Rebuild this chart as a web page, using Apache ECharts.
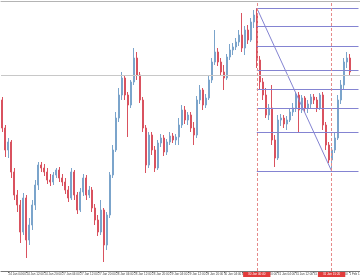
<!DOCTYPE html>
<html><head><meta charset="utf-8">
<script src="https://cdn.jsdelivr.net/npm/echarts@6/dist/echarts.min.js"></script>
<style>html,body{margin:0;padding:0;background:#fff}#c{width:360px;height:280px}</style>
</head><body><div id="c"></div>
<script>
// candle prices (open, close, low, high)
const opens  = [171,143,121,129,99,76,66,39,73,31,46,66,86,106,103,99,91,89,96,101,93,89,81,73,99,76,61,79,93,76,81,63,51,39,61,26,56,96,121,153,176,193,176,166,189,213,196,171,143,106,136,121,103,128,133,119,129,135,131,134,146,161,151,156,143,136,171,181,166,173,191,209,219,209,199,193,214,221,224,229,236,223,241,231,249,256,211,189,176,156,163,131,113,151,153,147,151,159,163,176,161,173,163,167,174,171,163,176,146,126,111,121,133,171,186,209,213];
const closes = [143,121,129,99,76,66,39,73,31,46,66,86,106,103,99,91,89,96,101,93,89,81,73,99,76,61,79,93,76,81,63,51,39,61,26,56,96,121,153,176,193,176,166,189,213,196,171,143,106,136,121,103,128,133,119,129,135,131,134,146,161,151,156,143,136,171,181,166,173,191,209,219,209,199,193,214,221,224,229,236,223,241,231,249,256,211,189,176,156,163,131,113,151,153,147,151,159,163,176,161,173,163,167,174,171,163,176,146,126,111,121,133,171,186,209,213,199];
const lows   = [139,114,113,93,71,59,28,36,13,26,41,61,81,99,95,87,85,86,93,89,85,77,69,71,71,57,59,75,71,73,59,46,35,36,9,21,53,93,119,149,171,171,134,163,186,191,168,139,98,103,116,99,101,124,115,116,126,128,126,126,143,147,146,139,126,133,167,161,163,171,188,206,205,195,181,191,211,216,221,225,219,216,227,229,243,203,181,171,153,151,126,104,111,145,143,141,149,155,159,138,158,159,158,163,167,159,161,141,121,108,100,118,131,167,181,203,195];
const highs  = [174,146,133,131,103,81,71,78,76,53,71,91,109,109,107,103,97,99,103,104,97,93,85,103,101,79,83,97,96,85,84,67,56,71,63,59,99,126,159,183,199,196,179,191,223,219,199,174,146,139,139,125,131,137,136,132,139,138,137,153,166,165,159,159,149,175,186,183,177,196,213,241,223,213,206,217,227,228,233,241,258,245,246,253,261,263,215,193,183,167,186,136,156,157,156,155,163,168,179,179,176,175,171,177,177,174,178,179,149,129,124,139,176,191,213,219,217];
const tickLabels = ['24 Jan 04:00','24 Jan 12:00','24 Jan 20:00','27 Jan 04:00','27 Jan 12:00','27 Jan 20:00','28 Jan 04:00','28 Jan 12:00','28 Jan 20:00','29 Jan 04:00','29 Jan 12:00','29 Jan 20:00','30 Jan 04:00','30 Jan 12:00','30 Jan 20:00','31 Jan 04:00','31 Jan 12:00','31 Jan 20:00','1 Feb 04:00','1 Feb 12:00'];
const fibRatios = [0, 0.236, 0.382, 0.5, 0.618, 0.764, 0.886, 1];
const fibHighIndex = 85, fibLowIndex = 110;
const fibHigh = 263, fibLow = 100;
const horizontalLevel = 195.7;
const vlineLabels = ['30 Jan 00:40', '31 Jan 15:20'];
const totalSlots = 120;

const categories = Array.from({length: totalSlots}, (_, i) => String(i));
const candleData = opens.map((o, i) => [o, closes[i], lows[i], highs[i]]);
const lastIdx = totalSlots - 1;

const fibColor = '#8484d2';
const markData = [];
fibRatios.forEach(r => {
  const v = fibLow + r * (fibHigh - fibLow);
  markData.push([{coord: [String(fibHighIndex), v], lineStyle: {color: fibColor, width: 1, type: 'solid'}}, {coord: [String(lastIdx), v]}]);
});
markData.push([{coord: [String(fibHighIndex), fibHigh], lineStyle: {color: fibColor, width: 1, type: 'solid'}}, {coord: [String(fibLowIndex), fibLow]}]);
markData.push({yAxis: horizontalLevel, lineStyle: {color: '#c8c8c8', width: 1, type: 'solid'}, label: {show: false}});
[fibHighIndex, fibLowIndex].forEach((xi, k) => {
  markData.push({xAxis: String(xi), lineStyle: {color: '#e58a8a', width: 1, type: [3, 2]},
    label: {show: true, position: 'start', formatter: vlineLabels[k], color: '#fff', backgroundColor: '#e23b3b',
      fontSize: 3, fontFamily: 'Liberation Sans', padding: [1, 5], distance: 1}});
});

const chart = echarts.init(document.getElementById('c'), null, {renderer: 'canvas'});
chart.setOption({
  animation: false,
  backgroundColor: '#fff',
  grid: {left: 1, right: 0, top: 1, bottom: 9, containLabel: false, outerBoundsMode: 'none'},
  xAxis: [{
    type: 'category', data: categories, boundaryGap: true,
    axisLine: {lineStyle: {color: '#777', width: 1}},
    axisTick: {show: true, interval: (i) => i >= 2 && (i - 2) % 6 === 0, length: 2, alignWithLabel: true, lineStyle: {color: '#777'}},
    axisLabel: {show: true, interval: (i) => i >= 2 && (i - 2) % 6 === 0, formatter: (v, i) => tickLabels[(i - 2) / 6] || '',
      fontSize: 3, fontFamily: 'Liberation Sans', color: '#444', align: 'left', margin: 2, hideOverlap: false},
    splitLine: {show: false}
  }, {
    type: 'category', data: categories, position: 'top',
    axisLine: {lineStyle: {color: '#b4b4b4', width: 1}}, axisTick: {show: false}, axisLabel: {show: false}
  }],
  yAxis: {type: 'value', min: 0, max: 270, show: false, splitLine: {show: false}},
  series: [{
    type: 'candlestick', data: candleData, barMaxWidth: 2,
    itemStyle: {color: '#7ba4cb', color0: '#d9525f', borderColor: '#7ba4cb', borderColor0: '#d9525f', borderWidth: 1},
    markLine: {silent: true, symbol: ['none', 'none'], animation: false, label: {show: false}, data: markData}
  }]
});
</script></body></html>
